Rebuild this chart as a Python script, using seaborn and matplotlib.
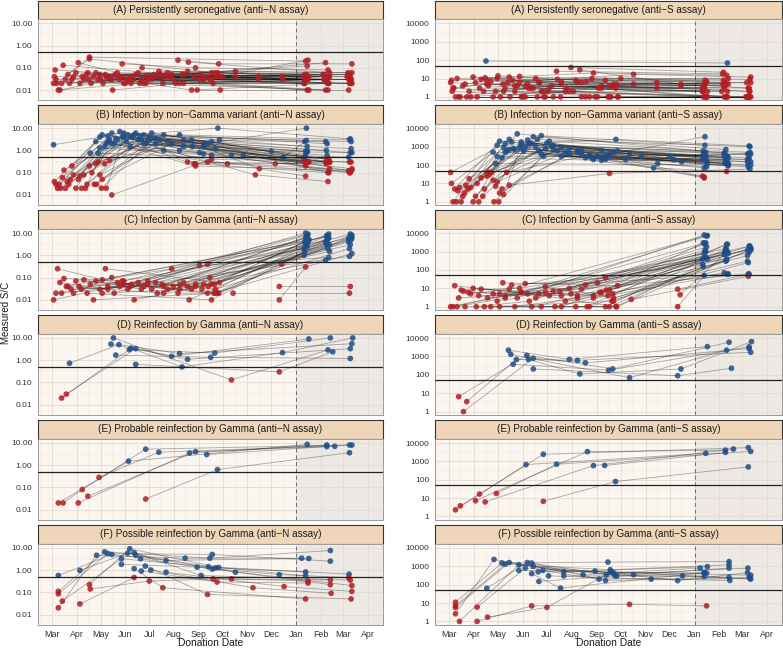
import pandas as pd
import matplotlib
matplotlib.use("Agg")
import matplotlib.pyplot as plt
import matplotlib.dates as mdates
from matplotlib.ticker import FixedLocator, FixedFormatter, NullFormatter
import seaborn as sns

# donation days are counted from 2020-03-01, one inner list per donor
# (A) persistently seronegative
a_days = [[2, 95, 316], [3, 60, 344], [4, 130, 372], [6, 47, 318], [8, 110, 346],
          [10, 75, 375], [14, 150, 320], [17, 88, 341], [20, 47, 204, 374], [22, 120, 317],
          [25, 99, 347], [27, 170, 371], [30, 140, 319], [33, 82, 343], [35, 185, 376],
          [38, 105, 322], [40, 160, 345], [43, 200, 373], [46, 347], [49, 125, 316],
          [52, 178, 342], [55, 95, 370], [58, 210, 321], [61, 135, 348], [64, 115, 374],
          [67, 190, 318], [70, 145, 340], [73, 230, 376], [76, 165, 320], [79, 205, 344],
          [82, 155, 372], [85, 259, 317], [88, 180, 346], [92, 200, 375], [98, 289, 319],
          [102, 165, 343], [108, 195, 371], [113, 214, 321], [118, 175, 347], [123, 259, 374],
          [128, 208, 316], [134, 341], [139, 198, 373], [146, 230, 318], [152, 342],
          [158, 209, 376], [163, 289, 320], [171, 348], [182, 211, 372], [190, 317],
          [5, 68, 343], [12, 140, 375], [45, 112, 322], [90, 186, 345], [118, 202, 319]]
a_anti_n = [[0.02, 0.03, 0.02], [0.04, 0.05, 0.03], [0.08, 0.04, 0.05], [0.02, 0.3, 0.2], [0.01, 0.02, 0.01],
            [0.01, 0.03, 0.02], [0.13, 0.05, 0.12], [0.03, 0.04, 0.03], [0.05, 0.25, 0.06, 0.04], [0.02, 0.03, 0.03],
            [0.03, 0.02, 0.02], [0.04, 0.07, 0.06], [0.06, 0.04, 0.05], [0.17, 0.06, 0.04], [0.02, 0.03, 0.02],
            [0.04, 0.05, 0.04], [0.03, 0.02, 0.03], [0.05, 0.06, 0.05], [0.03, 0.04], [0.02, 0.03, 0.02],
            [0.04, 0.04, 0.03], [0.06, 0.03, 0.04], [0.03, 0.04, 0.22], [0.03, 0.05, 0.04], [0.02, 0.02, 0.02],
            [0.05, 0.03, 0.03], [0.04, 0.06, 0.05], [0.03, 0.07, 0.06], [0.01, 0.02, 0.01], [0.05, 0.04, 0.04],
            [0.04, 0.02, 0.03], [0.03, 0.04, 0.05], [0.15, 0.1, 0.08], [0.02, 0.03, 0.03], [0.04, 0.03, 0.04],
            [0.03, 0.05, 0.17], [0.06, 0.04, 0.05], [0.1, 0.04, 0.03], [0.02, 0.01, 0.02], [0.04, 0.03, 0.03],
            [0.05, 0.06, 0.04], [0.07, 0.05], [0.02, 0.03, 0.02], [0.04, 0.04, 0.03], [0.03, 0.03],
            [0.22, 0.15, 0.15], [0.05, 0.04, 0.04], [0.18, 0.06], [0.01, 0.01, 0.01], [0.03, 0.02],
            [0.03, 0.04, 0.01], [0.02, 0.04, 0.03], [0.06, 0.03, 0.01], [0.02, 0.05, 0.02], [0.04, 0.02, 0.03]]
a_anti_s = [[6, 4, 3], [8, 10, 6], [2, 1, 1], [3, 5, 4], [1, 1, 1],
            [10, 12, 9], [1, 2, 1], [4, 6, 5], [5, 8, 4, 2], [1, 1, 1],
            [2, 3, 2], [1, 1, 1], [12, 7, 8], [6, 4, 3], [1, 1, 1],
            [3, 3, 2], [9, 6, 5], [2, 4, 3], [90, 70], [4, 3, 2],
            [7, 10, 8], [1, 1, 1], [2, 1, 1], [14, 9, 10], [1, 2, 1],
            [5, 3, 3], [3, 2, 2], [6, 17, 12], [1, 1, 1], [8, 5, 4],
            [2, 2, 1], [4, 3, 3], [13, 20, 15], [1, 1, 1], [5, 4, 5],
            [3, 6, 4], [10, 8, 6], [6, 10, 7], [1, 1, 1], [2, 6, 3],
            [4, 3, 2], [25, 18], [1, 1, 1], [3, 5, 4], [40, 22],
            [8, 5, 6], [30, 5, 6], [7, 5], [1, 1, 1], [4, 2],
            [3, 2, 1], [1, 5, 2], [11, 6, 1], [1, 3, 1], [2, 1, 1]]

# (B) infection by non-Gamma variant
b_days = [[2, 70, 318], [3, 55, 176, 345], [5, 60, 190, 372], [7, 63, 318], [9, 75, 200, 348],
          [11, 80, 316], [13, 68, 160, 374], [15, 85, 343], [17, 90, 210, 320], [19, 72, 376],
          [21, 95, 180, 346], [23, 100, 318], [25, 58, 373], [27, 105, 345], [30, 66, 190, 321],
          [33, 110, 375], [35, 60, 200, 348], [37, 115, 319], [40, 120, 347], [42, 70, 180, 372],
          [44, 125, 317], [47, 130, 344], [50, 75, 195, 376], [53, 135, 322], [55, 140, 346],
          [58, 100, 374], [60, 145, 318], [63, 150, 345], [66, 160, 373], [68, 90, 320],
          [72, 175, 347], [75, 200, 375], [78, 165, 316], [82, 170, 344], [88, 185, 372],
          [93, 195, 319], [98, 225, 348], [103, 208, 374], [108, 240, 321], [115, 255, 346],
          [122, 275, 376], [130, 290, 317], [140, 220, 373], [150, 205, 345], [165, 260, 318],
          [178, 280, 348], [190, 318], [48, 112, 343], [56, 118, 320], [62, 128, 375]]
b_anti_n = [[1.8, 4.5, 0.9], [0.04, 2.5, 1.5, 0.3], [0.03, 4, 2, 0.12], [0.02, 5, 0.25], [0.03, 6, 2.5, 0.3],
            [0.02, 3.5, 0.4], [0.06, 2, 1, 0.1], [0.13, 7, 0.3], [0.02, 6, 3, 1.5], [0.04, 3, 0.15],
            [0.03, 5, 0.25, 0.1], [0.05, 4, 0.6], [0.2, 0.75, 0.3], [0.08, 6, 2], [0.02, 1.5, 0.7, 0.3],
            [0.05, 4.5, 2.5], [0.07, 1.3, 0.6, 0.15], [0.02, 5, 2.8], [0.08, 3, 0.4], [0.02, 2.5, 0.2, 0.12],
            [0.03, 6, 0.5], [0.2, 3.5, 1], [0.1, 2, 0.3, 0.13], [0.03, 3, 0.3], [0.25, 5, 0.4],
            [0.3, 4, 0.8], [0.08, 2.5, 0.2], [0.05, 2, 0.6], [0.25, 5, 3], [0.02, 4, 0.9],
            [0.35, 3, 0.1], [0.01, 0.4, 0.3], [2, 1.5, 0.35], [3, 0.3, 0.25], [4, 0.8, 0.5],
            [2.5, 2, 10], [1.5, 0.6, 0.3], [5, 10, 3.3], [3, 0.6, 0.3], [2, 0.08, 0.04],
            [4, 0.9, 0.8], [2, 0.5, 2.5], [1, 0.25, 0.1], [2, 1.2, 0.4], [3, 0.15, 0.07],
            [0.25, 0.25, 0.3], [1.5, 0.25], [0.75, 3, 2.5], [0.03, 2, 0.9], [0.02, 3.5, 1.2]]
b_anti_s = [[40, 1500, 350], [10, 500, 300, 200], [1, 1200, 600, 150], [5, 2000, 300], [1, 2500, 400, 120],
            [4, 800, 200], [6, 900, 500, 250], [1, 5000, 450], [2, 1800, 600, 500], [3, 600, 100],
            [8, 1000, 200, 180], [5, 1500, 250], [18, 120, 100], [6, 3500, 700], [1, 250, 180, 80],
            [2, 2500, 1000], [10, 300, 300, 90], [1, 4000, 1200], [20, 800, 300], [2, 500, 250, 200],
            [5, 2000, 600], [25, 1200, 400], [30, 700, 200, 150], [40, 600, 120], [15, 900, 250],
            [7, 1500, 400], [12, 500, 20], [3, 400, 160], [5, 600, 200], [2.5, 1300, 300],
            [40, 350, 100], [8, 35, 60], [1800, 600, 25], [700, 250, 130], [900, 300, 400],
            [600, 350, 3500], [2300, 400, 250], [1500, 2500, 1100], [1000, 300, 160], [400, 70, 45],
            [1600, 300, 400], [700, 150, 400], [300, 200, 80], [800, 500, 120], [400, 120, 70],
            [250, 200, 110], [250, 22], [40, 600, 300], [1, 300, 200], [1, 1100, 500]]

# (C) infection by Gamma
c_days = [[2, 318], [7, 98, 345], [10, 70, 320], [12, 120, 372], [15, 88, 316],
          [20, 140, 347], [24, 160, 374], [27, 75, 322], [30, 180, 343], [34, 100, 319],
          [37, 190, 376], [40, 112, 348], [44, 200, 317], [48, 130, 373], [52, 205, 345],
          [55, 150, 321], [60, 85, 318], [63, 175, 346], [67, 210, 375], [70, 140, 320],
          [78, 195, 344], [82, 160, 372], [90, 208, 316], [95, 185, 347], [103, 200, 376],
          [108, 170, 319], [115, 195, 345], [120, 205, 373], [125, 318], [132, 198, 348],
          [138, 374], [145, 204, 322], [152, 343], [158, 209, 375], [165, 320],
          [172, 346], [180, 372], [188, 317], [196, 344], [203, 376],
          [227, 373], [285, 374], [285, 318], [288, 347], [5, 90, 321], [18, 63, 346]]
c_anti_n = [[0.01, 3], [0.25, 0.04, 5], [0.06, 0.03, 8], [0.02, 0.05, 6], [0.09, 0.07, 2],
            [0.04, 0.02, 9], [0.03, 0.05, 3], [0.02, 0.1, 5], [0.07, 0.04, 0.6], [0.04, 0.05, 6],
            [0.03, 0.05, 8], [0.08, 0.03, 3], [0.02, 0.01, 1.5], [0.05, 0.06, 0.9], [0.01, 0.02, 4],
            [0.07, 0.25, 4], [0.03, 0.04, 10], [0.02, 0.03, 2], [0.25, 0.06, 5], [0.04, 0.04, 7],
            [0.02, 0.4, 7], [0.06, 0.03, 4], [0.05, 0.02, 1], [0.03, 0.35, 0.8], [0.01, 0.05, 6],
            [0.06, 0.04, 3], [0.04, 0.02, 8], [0.07, 0.03, 2], [0.03, 6], [0.02, 0.1, 1.5],
            [0.05, 9], [0.03, 0.05, 5], [0.04, 4], [0.02, 0.02, 7], [0.06, 2.5],
            [0.01, 6], [0.05, 5], [0.03, 4], [0.04, 3], [0.02, 1.2],
            [0.02, 0.02], [0.04, 0.04], [0.01, 0.3], [0.4, 6], [0.02, 0.07, 9], [0.04, 0.08, 7]]
c_anti_s = [[1, 800], [14, 5, 1500], [1, 3, 3000], [3, 6, 1200], [8, 10, 400],
            [1, 1, 2500], [6, 4, 900], [5, 9, 7500], [10, 4, 70], [1, 2, 2500],
            [4, 6, 1500], [9, 5, 800], [1, 1, 150], [3, 7, 60], [1, 2, 300],
            [5, 10, 1800], [2, 3, 8000], [1, 1, 350], [20, 14, 2000], [4, 4, 500],
            [15, 38, 1000], [1, 3, 600], [6, 1, 200], [18, 20, 60], [1, 8, 1500],
            [3, 15, 1200], [1, 1, 1400], [12, 3, 250], [4, 450], [1, 4, 60],
            [7, 2000], [2, 5, 400], [5, 700], [1, 1, 1300], [9, 1000],
            [1, 2500], [3, 300], [6, 3000], [8, 900], [2, 1200],
            [2.5, 45], [9, 60], [1, 50], [4.5, 1000], [1, 6, 7000], [7, 5, 400]]

# (D) reinfection by Gamma
d_days = [[12, 97, 204, 349], [18, 105, 170, 374], [22, 84, 160, 376], [74, 150, 322],
          [77, 225, 346], [80, 199, 374], [99, 163, 289, 377], [105, 285, 352]]
d_anti_n = [[0.02, 3, 2.1, 10], [0.03, 3.3, 1.1, 3.3], [0.73, 5, 2, 5.5], [5.3, 1.5, 9],
            [10, 0.13, 2.9], [1.7, 1.35, 1.2], [3.5, 0.5, 2.2, 10], [0.65, 0.3, 2.4]]
d_anti_s = [[6.5, 1150, 210, 6000], [1, 800, 450, 2700], [3.5, 690, 620, 1700], [2200, 700, 3450],
            [1300, 70, 2200], [380, 180, 3400], [690, 112, 210, 6500], [210, 90, 230]]

# (E) probable reinfection by Gamma
e_days = [[8, 96, 320], [14, 38, 117.5, 373], [33, 172.5, 344.5], [45, 180, 354.5],
          [59, 134, 376], [117.5, 207.5, 373], [194, 344.5]]
e_anti_n = [[0.02, 1.5, 8.5], [0.02, 0.08, 5.2, 8], [0.02, 3.5, 8], [0.04, 4, 7],
            [0.28, 3.8, 8], [0.03, 0.63, 3.6], [3, 6.8]]
e_anti_s = [[2.3, 670, 2750], [3.8, 16.6, 2450, 5600], [7.2, 3400, 4100], [6.2, 590, 4700],
            [18, 700, 3500], [6.7, 80, 500], [600, 3100]]

# (F) possible reinfection by Gamma
f_days = [[8, 66, 198, 349], [8, 70, 201, 349], [8, 56, 167, 313], [8, 75, 143, 322],
          [13, 87, 196, 372.5], [35, 95, 205, 318], [35, 103, 225, 321], [47, 97.5, 209, 318],
          [48, 122, 202, 349], [87, 182, 285, 372], [103, 187, 374], [105, 230, 349],
          [111, 201, 376], [103, 139, 318], [112, 207, 321], [117, 195, 375],
          [124, 252, 350], [143, 291, 376]]
f_anti_n = [[0.11, 6.5, 3.4, 7.5], [0.085, 5.5, 5, 2.5], [0.02, 4.6, 3.4, 3.4], [0.57, 5, 2.7, 3.3],
            [0.04, 3.2, 1.4, 0.65], [0.96, 5.7, 1.25, 0.82], [0.03, 0.46, 0.4, 0.32], [0.22, 9, 1.3, 0.55],
            [0.14, 0.32, 0.4, 0.36], [1.8, 1.35, 0.62, 0.46], [6, 0.57, 0.35], [4.6, 0.8, 0.22],
            [3.2, 1.1, 0.2], [1.15, 0.16, 0.05], [0.9, 0.29, 0.26], [1.5, 0.08, 0.05],
            [1.0, 0.16, 0.09], [0.8, 0.18, 0.11]]
f_anti_s = [[11, 1500, 1700, 1800], [7, 1300, 650, 1200], [2.6, 2350, 350, 800], [5.7, 1600, 500, 950],
            [1, 1200, 350, 800], [6, 800, 450, 450], [1, 7, 8.5, 7], [63, 1600, 300, 280],
            [1.7, 5.8, 500, 250], [600, 550, 165, 450], [1500, 200, 250], [1000, 350, 800],
            [500, 500, 330], [400, 65, 450], [150, 300, 420], [600, 170, 220],
            [300, 200, 170], [300, 300, 200]]

groups = ["(A) Persistently seronegative", "(B) Infection by non\u2212Gamma variant",
          "(C) Infection by Gamma", "(D) Reinfection by Gamma",
          "(E) Probable reinfection by Gamma", "(F) Possible reinfection by Gamma"]
group_days = [a_days, b_days, c_days, d_days, e_days, f_days]
group_n = [a_anti_n, b_anti_n, c_anti_n, d_anti_n, e_anti_n, f_anti_n]
group_s = [a_anti_s, b_anti_s, c_anti_s, d_anti_s, e_anti_s, f_anti_s]

N_CUTOFF = 0.5
S_CUTOFF = 50
n_ticks = [0.01, 0.1, 1, 10]
s_ticks = [1, 10, 100, 1000, 10000]

BASE = pd.Timestamp("2020-03-01")
JAN1 = pd.Timestamp("2021-01-01")
XMIN, XMAX = pd.Timestamp("2020-02-12 12:00"), pd.Timestamp("2021-04-20")

RED, BLUE = "#B01E23", "#1F4E85"


def donor_frame(days, values, cutoff):
    rows = []
    for donor, (dd, vv) in enumerate(zip(days, values)):
        for d, v in zip(dd, vv):
            rows.append((donor, BASE + pd.Timedelta(days=d), v))
    df = pd.DataFrame(rows, columns=["donor", "date", "value"])
    df["reactive"] = df["value"] >= cutoff
    return df


sns.set_theme(style="white")
plt.rcParams["font.family"] = ["Liberation Sans", "DejaVu Sans"]

W, H = 783, 649
fig = plt.figure(figsize=(W / 100, H / 100), dpi=100)


def px_axes(x0, y0, x1, y1):
    return fig.add_axes([x0 / W, 1 - y1 / H, (x1 - x0) / W, (y1 - y0) / H])


columns = [
    dict(x0=38, x1=383, vals=group_n, cutoff=N_CUTOFF, ticks=n_ticks,
         labels=[f"{t:.2f}" for t in n_ticks], ylim=(0.0035, 15.2), assay="anti\u2212N"),
    dict(x0=435, x1=782, vals=group_s, cutoff=S_CUTOFF, ticks=s_ticks,
         labels=[f"{t:g}" for t in s_ticks], ylim=(0.66, 17000), assay="anti\u2212S"),
]

for col in columns:
    for i, title in enumerate(groups):
        top = 0.5 + 104.9 * i
        strip_bot = top + 18.7
        bot = strip_bot + 81

        sax = px_axes(col["x0"], top, col["x1"], strip_bot)
        sax.set_facecolor("#EFD6B9")
        sax.set_xticks([])
        sax.set_yticks([])
        for sp in sax.spines.values():
            sp.set_color("#333333")
            sp.set_linewidth(0.8)
        sax.text(0.5, 0.5, f"{title} ({col['assay']} assay)", ha="center", va="center",
                 fontsize=7.2, color="#1A1A1A", transform=sax.transAxes)

        ax = px_axes(col["x0"], strip_bot, col["x1"], bot)
        ax.set_facecolor("#FCF6F1")
        ax.set_yscale("log")
        df = donor_frame(group_days[i], col["vals"][i], col["cutoff"])

        ax.axvspan(JAN1, XMAX, color="#EDEAE6", lw=0, zorder=0.1)
        sns.lineplot(data=df, x="date", y="value", units="donor", estimator=None,
                     color="black", alpha=0.33, lw=0.6, ax=ax, legend=False, zorder=2)
        sns.scatterplot(data=df, x="date", y="value", hue="reactive",
                        palette={False: RED, True: BLUE}, s=17, alpha=0.85,
                        linewidth=0, ax=ax, legend=False, zorder=3)
        ax.axhline(col["cutoff"], color="#222222", lw=0.9, zorder=4)
        ax.axvline(JAN1, color="#6E6E6E", lw=0.7, ls=(0, (4, 3)), zorder=1.5)

        ax.set_xlim(XMIN, XMAX)
        ax.set_ylim(*col["ylim"])
        ax.xaxis.set_major_locator(mdates.MonthLocator())
        ax.xaxis.set_minor_locator(mdates.MonthLocator(bymonthday=16))
        ax.xaxis.set_major_formatter(mdates.DateFormatter("%b"))
        ax.xaxis.set_minor_formatter(NullFormatter())
        ax.yaxis.set_major_locator(FixedLocator(col["ticks"]))
        ax.yaxis.set_major_formatter(FixedFormatter(col["labels"]))
        ax.yaxis.set_minor_locator(FixedLocator([t * 10 ** 0.5 for t in col["ticks"]]))
        ax.yaxis.set_minor_formatter(NullFormatter())

        ax.set_axisbelow(True)
        ax.grid(which="major", color="#E5DAD2", lw=0.6)
        ax.grid(which="minor", color="#EEE5DF", lw=0.35)
        ax.tick_params(which="minor", length=0)
        ax.tick_params(axis="y", which="major", length=2.5, width=0.6, color="#555555",
                       labelsize=6.0, labelcolor="#333333", pad=1.5)
        if i == len(groups) - 1:
            ax.tick_params(axis="x", which="major", length=2.5, width=0.6, color="#555555",
                           labelsize=6.4, labelcolor="#333333", pad=1.5)
        else:
            ax.tick_params(axis="x", which="major", length=0, labelbottom=False)
        ax.set_xlabel("")
        ax.set_ylabel("")
        for sp in ax.spines.values():
            sp.set_color("#9A9A9A")
            sp.set_linewidth(0.7)

    fig.text((col["x0"] + col["x1"]) / 2 / W, 1 - 643 / H, "Donation Date",
             ha="center", va="center", fontsize=7.4, color="#1A1A1A")

fig.text(6 / W, 1 - 313 / H, "Measured S/C", rotation=90, ha="center", va="center",
         fontsize=7.0, color="#1A1A1A")

fig.savefig("out.png", dpi=100)
